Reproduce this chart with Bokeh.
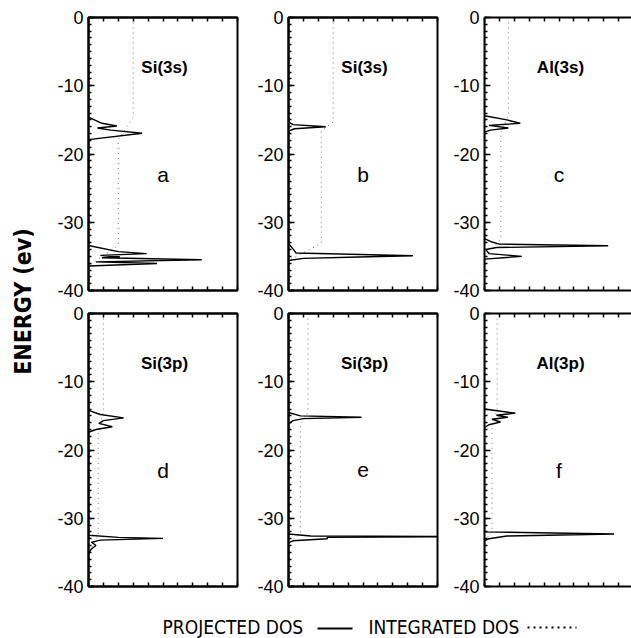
import numpy as np
from bokeh.plotting import figure
from bokeh.models import Range1d, LinearAxis, SingleIntervalTicker, FixedTicker, Label
from bokeh.layouts import row, column
from bokeh.embed import file_html
from bokeh.resources import INLINE

# ---------------- data ----------------
panel_titles = ["Si(3s)", "Si(3s)", "Al(3s)", "Si(3p)", "Si(3p)", "Al(3p)"]
panel_letters = ["a", "b", "c", "d", "e", "f"]

y_ticks = [0, -10, -20, -30, -40]
y_tick_labels = ["0", "-10", "-20", "-30", "-40"]

# projected DOS (energy in eV, DOS in arbitrary units)
pdos_a_E = [0, -14.6, -15.5, -15.9, -16.2, -16.5, -16.95, -17.9, -33.4, -34.3, -34.6, -34.85, -35.05, -35.2, -35.5, -35.8, -36.05, -36.4, -40]
pdos_a_v = [0, 0, 0.9, 1.9, 0.6, 1.5, 3.6, 0, 0, 2.0, 3.9, 0.8, 2.1, 0.9, 7.6, 0.5, 4.6, 0, 0]

pdos_b_E = [0, -15.3, -15.7, -16.0, -16.3, -16.65, -33.1, -33.9, -34.5, -34.9, -35.1, -35.3, -35.6, -40]
pdos_b_v = [0, 0, 0.3, 2.5, 0.4, 0, 0, 0.3, 0.5, 8.35, 4.7, 1.0, 0, 0]

pdos_c_E = [0, -14.4, -15.0, -15.5, -15.8, -16.2, -16.5, -16.8, -32.4, -32.9, -33.2, -33.45, -33.7, -34.0, -34.6, -35.0, -35.4, -40]
pdos_c_v = [0, 0, 1.5, 2.4, 0.3, 1.6, 0.4, 0, 0, 0.5, 1.0, 8.3, 0.8, 0.1, 0.3, 2.5, 0, 0]

pdos_d_E = [0, -14.2, -14.8, -15.3, -15.7, -16.1, -16.6, -17.0, -17.4, -32.5, -32.8, -32.95, -33.2, -33.5, -34.0, -34.5, -35.2, -40]
pdos_d_v = [0, 0, 0.8, 2.36, 1.0, 0.7, 1.6, 0.5, 0, 0, 2.0, 5.0, 0.8, 0.2, 0.5, 0.2, 0, 0]

pdos_e_E = [0, -14.5, -15.0, -15.2, -15.4, -15.7, -16.2, -32.3, -32.6, -32.7, -32.8, -33.0, -33.3, -33.6, -40]
pdos_e_v = [0, 0, 0.8, 4.9, 1.0, 0.3, 0, 0, 1.5, 12.0, 2.6, 2.6, 0.3, 0, 0]

pdos_f_E = [0, -14.0, -14.6, -14.9, -15.2, -15.5, -15.9, -16.3, -16.7, -32.0, -32.3, -32.6, -33.0, -33.3, -40]
pdos_f_v = [0, 0, 2.07, 0.8, 1.56, 0.5, 1.07, 0.3, 0, 0, 8.7, 1.5, 0.3, 0, 0]

# integrated DOS
idos_a_E = [0, -14.6, -17.9, -33.4, -36.4, -40]
idos_a_v = [3.0, 3.0, 2.0, 2.0, 0, 0]
idos_b_E = [0, -15.3, -16.65, -33.1, -35.6, -40]
idos_b_v = [3.0, 3.0, 2.2, 2.2, 0, 0]
idos_c_E = [0, -14.4, -16.8, -32.4, -35.4, -40]
idos_c_v = [1.6, 1.6, 1.1, 1.1, 0, 0]
idos_d_E = [0, -14.2, -17.4, -32.5, -35.2, -40]
idos_d_v = [1.0, 1.0, 0.65, 0.65, 0, 0]
idos_e_E = [0, -14.5, -16.2, -32.3, -33.6, -40]
idos_e_v = [1.3, 1.3, 0.8, 0.8, 0, 0]
idos_f_E = [0, -14.0, -16.7, -32.0, -33.3, -40]
idos_f_v = [0.85, 0.85, 0.5, 0.5, 0, 0]

x_tick_positions = list(range(0, 11))

pdos_E = [pdos_a_E, pdos_b_E, pdos_c_E, pdos_d_E, pdos_e_E, pdos_f_E]
pdos_v = [pdos_a_v, pdos_b_v, pdos_c_v, pdos_d_v, pdos_e_v, pdos_f_v]
idos_E = [idos_a_E, idos_b_E, idos_c_E, idos_d_E, idos_e_E, idos_f_E]
idos_v = [idos_a_v, idos_b_v, idos_c_v, idos_d_v, idos_e_v, idos_f_v]

# ---------------- layout ----------------
FRAME_H = 273
FW = [149, 149, 147]
XMAX = [10.0, 10.0, 10.0 * 147 / 149]
MBL = [48, 49, 45]
MBR = [2, 2, 0]
MBT = [17, 11]
MBB = [12, 14]

TICK_FONT = "Liberation Sans"
COND = "DejaVu Sans Condensed"


def make_panel(i):
    col = i % 3
    r = i // 3
    p = figure(frame_width=FW[col], frame_height=FRAME_H,
               x_range=Range1d(0, XMAX[col]), y_range=Range1d(-40, 0),
               x_axis_type=None, y_axis_type=None,
               toolbar_location=None, output_backend="svg",
               min_border_left=MBL[col], min_border_right=MBR[col],
               min_border_top=MBT[r], min_border_bottom=MBB[r])
    p.grid.visible = False
    p.outline_line_color = "black" if col < 2 else None
    p.outline_line_width = 2
    p.background_fill_color = "white"
    p.border_fill_color = "white"

    yax = LinearAxis(ticker=SingleIntervalTicker(interval=10, num_minor_ticks=10))
    yax.major_label_overrides = {t: l for t, l in zip(y_ticks, y_tick_labels)}
    yax.axis_line_width = 2
    yax.major_tick_in = 6
    yax.major_tick_out = 0
    yax.minor_tick_in = 3
    yax.minor_tick_out = 0
    yax.major_tick_line_width = 1.5
    yax.minor_tick_line_width = 1.5
    yax.major_label_standoff = 5
    yax.major_label_text_font = TICK_FONT
    yax.major_label_text_font_size = "18px"
    yax.major_label_text_color = "black"
    p.add_layout(yax, "left")

    for loc in ("above", "below"):
        # only minor ticks -> tick marks without any labels
        ax = LinearAxis(ticker=FixedTicker(ticks=[], minor_ticks=x_tick_positions))
        ax.axis_line_width = 2
        ax.minor_tick_in = 4
        ax.minor_tick_out = 0
        ax.minor_tick_line_width = 1.5
        ax.minor_tick_line_color = "black"
        ax.major_tick_line_color = None
        ax.major_label_standoff = 0
        p.add_layout(ax, loc)

    p.line(x=idos_v[i], y=idos_E[i], line_color="#777777", line_width=1, line_dash="1 4")
    p.line(x=pdos_v[i], y=pdos_E[i], line_color="black", line_width=1.4)

    p.add_layout(Label(x=5.1, y=-7.3, text=panel_titles[i], text_font=TICK_FONT,
                       text_font_style="bold", text_font_size="17px", text_color="black",
                       text_align="center", text_baseline="middle"))
    p.add_layout(Label(x=5.0, y=-23.0, text=panel_letters[i], text_font=TICK_FONT,
                       text_font_size="21px", text_color="black",
                       text_align="center", text_baseline="middle"))
    return p


panels = [make_panel(i) for i in range(6)]

# y-axis title strip
yl = figure(width=40, height=600, x_range=Range1d(0, 40), y_range=Range1d(0, 600),
            x_axis_type=None, y_axis_type=None, toolbar_location=None,
            output_backend="svg", min_border=0, outline_line_color=None)
yl.grid.visible = False
yl.add_layout(Label(x=22, y=299, text="ENERGY (ev)", angle=np.pi / 2,
                    text_font=COND, text_font_style="bold", text_font_size="23px",
                    text_color="black", text_align="center", text_baseline="middle"))

# legend strip
lg = figure(width=631, height=38, x_range=Range1d(0, 631), y_range=Range1d(0, 38),
            x_axis_type=None, y_axis_type=None, toolbar_location=None,
            output_backend="svg", min_border=0, outline_line_color=None)
lg.grid.visible = False
lg.add_layout(Label(x=162, y=12, text="PROJECTED DOS", text_font=COND, text_color="black",
                    text_font_size="19px", text_align="left", text_baseline="middle"))
lg.segment(x0=[317], y0=[10], x1=[352], y1=[10], line_color="black", line_width=2)
lg.add_layout(Label(x=368, y=12, text="INTEGRATED DOS", text_font=COND, text_color="black",
                    text_font_size="19px", text_align="left", text_baseline="middle"))
lg.segment(x0=[527], y0=[11], x1=[576], y1=[11], line_color="black", line_width=2, line_dash="2 4")

grid = column(row(*panels[:3]), row(*panels[3:]))
layout = column(row(yl, grid), lg)

open("out.html", "w").write(file_html(layout, INLINE))
